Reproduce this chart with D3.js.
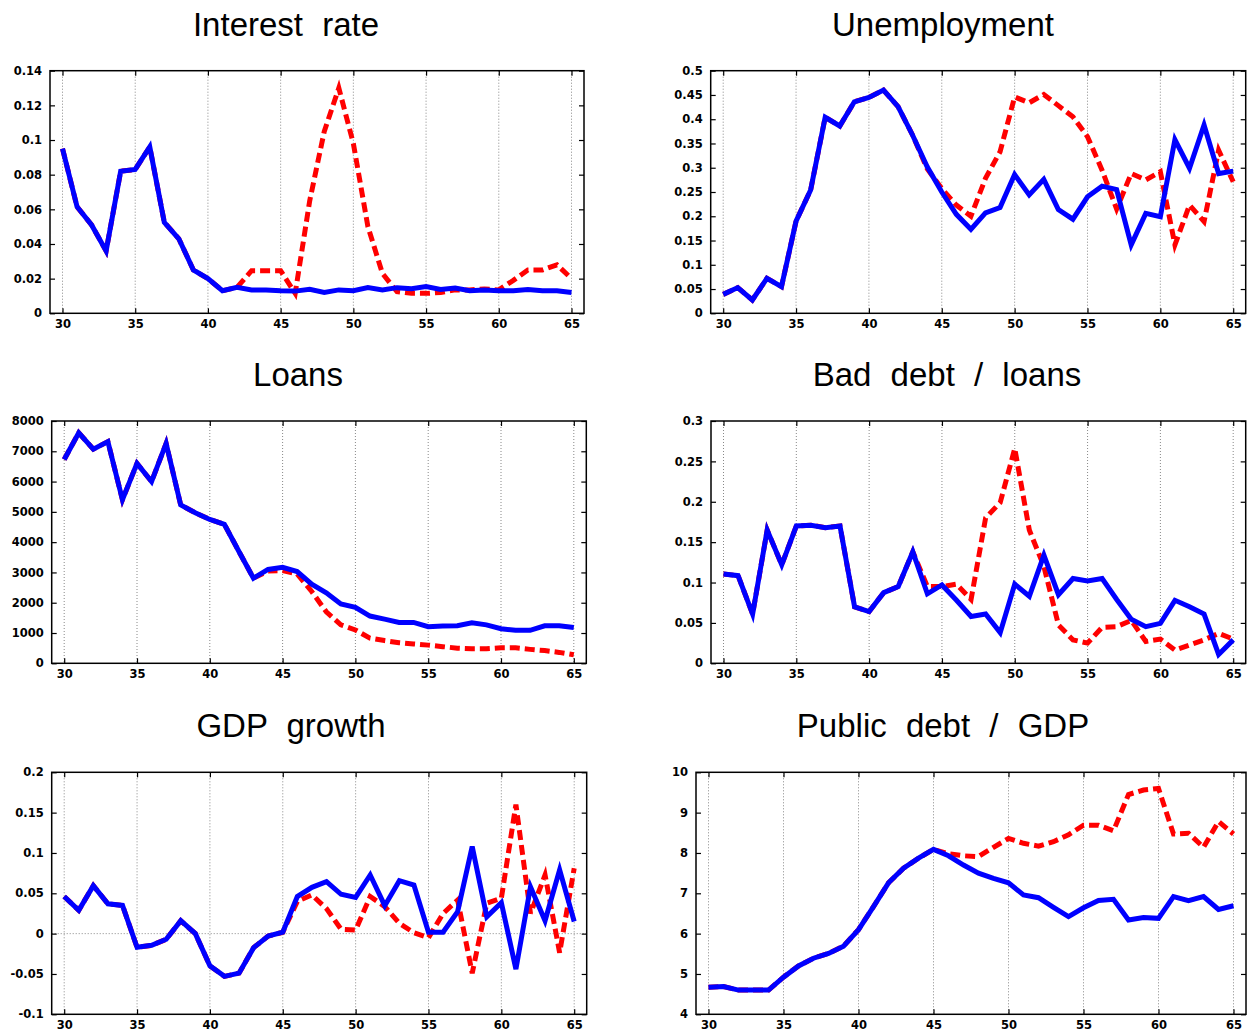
<!DOCTYPE html>
<html>
<head>
<meta charset="utf-8">
<script src="https://cdn.jsdelivr.net/npm/d3@7"></script>
<style>
  body { margin: 0; background: #fff; }
  .title { font-family: "Liberation Sans", Arial, sans-serif; font-size: 33px; fill: #000; word-spacing: 10px; }
  .axes text { font-family: "DejaVu Sans", sans-serif; font-weight: bold; font-size: 11.5px; fill: #000; }
  .axes line { stroke: #000; stroke-width: 1.2; }
  .grid { stroke: #888; stroke-width: 1; stroke-dasharray: 1,2; }
</style>
</head>
<body>
<svg id="chart" width="1247" height="1032"></svg>
<script>
const years = [30, 31, 32, 33, 34, 35, 36, 37, 38, 39, 40, 41, 42, 43, 44, 45, 46, 47,
               48, 49, 50, 51, 52, 53, 54, 55, 56, 57, 58, 59, 60, 61, 62, 63, 64, 65];
const xTicks = [30, 35, 40, 45, 50, 55, 60, 65];

// blue = baseline, red dashed = alternative scenario
const rateBase = [0.095, 0.0615, 0.051, 0.036, 0.082, 0.083, 0.096, 0.0525, 0.043, 0.025,
                  0.020, 0.013, 0.015, 0.0135, 0.0135, 0.013, 0.0128, 0.0138, 0.012, 0.0135,
                  0.013, 0.0148, 0.0135, 0.0148, 0.0142, 0.0154, 0.0138, 0.0146, 0.013, 0.0135,
                  0.013, 0.013, 0.0138, 0.013, 0.013, 0.012];
const rateAlt = [0.095, 0.0615, 0.051, 0.036, 0.082, 0.083, 0.096, 0.0525, 0.043, 0.025,
                 0.020, 0.013, 0.015, 0.0246, 0.0246, 0.0246, 0.0115, 0.065, 0.105, 0.13,
                 0.098, 0.05, 0.023, 0.0125, 0.0115, 0.0115, 0.012, 0.0135, 0.0135, 0.014,
                 0.0135, 0.019, 0.025, 0.025, 0.028, 0.020];
const rateTicks = [0, 0.02, 0.04, 0.06, 0.08, 0.1, 0.12, 0.14];

const unempBase = [0.039, 0.053, 0.0275, 0.072, 0.055, 0.19, 0.254, 0.404, 0.386, 0.436,
                   0.445, 0.46, 0.426, 0.367, 0.302, 0.25, 0.204, 0.173, 0.207, 0.218,
                   0.286, 0.244, 0.276, 0.214, 0.194, 0.24, 0.262, 0.255, 0.141, 0.206,
                   0.199, 0.358, 0.299, 0.388, 0.288, 0.293];
const unempAlt = [0.039, 0.053, 0.0275, 0.072, 0.055, 0.19, 0.254, 0.404, 0.386, 0.436,
                  0.445, 0.46, 0.426, 0.367, 0.298, 0.257, 0.223, 0.2, 0.278, 0.333,
                  0.446, 0.434, 0.451, 0.428, 0.405, 0.364, 0.295, 0.215, 0.288, 0.275,
                  0.292, 0.141, 0.223, 0.189, 0.336, 0.271];
const unempTicks = [0, 0.05, 0.1, 0.15, 0.2, 0.25, 0.3, 0.35, 0.4, 0.45, 0.5];

const loansBase = [6730, 7610, 7070, 7320, 5400, 6600, 6000, 7260, 5230, 4970,
                   4750, 4590, 3690, 2810, 3100, 3170, 3030, 2610, 2330, 1960,
                   1850, 1560, 1460, 1350, 1350, 1210, 1230, 1240, 1340, 1270,
                   1140, 1090, 1090, 1240, 1240, 1180];
const loansAlt = [6730, 7610, 7070, 7320, 5400, 6600, 6000, 7260, 5230, 4970,
                  4750, 4590, 3690, 2810, 3050, 3060, 2950, 2370, 1700, 1270,
                  1100, 830, 750, 680, 640, 600, 550, 500, 480, 480,
                  510, 510, 460, 420, 360, 280];
const loansTicks = [0, 1000, 2000, 3000, 4000, 5000, 6000, 7000, 8000];

const badDebtBase = [0.1106, 0.1085, 0.061, 0.165, 0.122, 0.170, 0.171, 0.168, 0.170, 0.070,
                     0.064, 0.0875, 0.095, 0.138, 0.086, 0.097, 0.078, 0.058, 0.061, 0.038,
                     0.098, 0.083, 0.134, 0.085, 0.105, 0.102, 0.105, 0.079, 0.0545, 0.0454,
                     0.0495, 0.078, 0.070, 0.061, 0.011, 0.029];
const badDebtAlt = [0.1106, 0.1085, 0.061, 0.165, 0.122, 0.170, 0.171, 0.168, 0.170, 0.070,
                    0.064, 0.0875, 0.095, 0.138, 0.095, 0.095, 0.098, 0.079, 0.18, 0.199,
                    0.266, 0.165, 0.120, 0.0475, 0.029, 0.025, 0.0446, 0.0454, 0.053, 0.027,
                    0.030, 0.0165, 0.0227, 0.029, 0.037, 0.030];
const badDebtTicks = [0, 0.05, 0.1, 0.15, 0.2, 0.25, 0.3];

const gdpBase = [0.046, 0.029, 0.0595, 0.037, 0.035, -0.017, -0.0145, -0.007, 0.016, 0.0,
                 -0.040, -0.053, -0.049, -0.0174, -0.003, 0.0017, 0.046, 0.0574, 0.0645, 0.0488,
                 0.045, 0.0727, 0.0347, 0.0657, 0.0603, 0.0017, 0.0017, 0.0273, 0.108, 0.021,
                 0.0384, -0.044, 0.058, 0.016, 0.079, 0.015];
const gdpAlt = [0.046, 0.029, 0.0595, 0.037, 0.035, -0.017, -0.0145, -0.007, 0.016, 0.0,
                -0.040, -0.053, -0.049, -0.0174, -0.003, 0.0017, 0.040, 0.048, 0.031, 0.0054,
                0.0045, 0.046, 0.0335, 0.0128, 0.0012, -0.005, 0.025, 0.0417, -0.049, 0.0376,
                0.0438, 0.160, 0.025, 0.0727, -0.0236, 0.081];
const gdpTicks = [-0.1, -0.05, 0, 0.05, 0.1, 0.15, 0.2];

const pubDebtBase = [4.67, 4.69, 4.6, 4.6, 4.6, 4.92, 5.2, 5.39, 5.51, 5.69,
                     6.1, 6.67, 7.26, 7.62, 7.87, 8.09, 7.93, 7.70, 7.5, 7.37,
                     7.26, 6.96, 6.89, 6.65, 6.42, 6.64, 6.82, 6.85, 6.34, 6.40,
                     6.38, 6.92, 6.82, 6.92, 6.60, 6.69];
const pubDebtAlt = [4.67, 4.69, 4.6, 4.6, 4.6, 4.92, 5.2, 5.39, 5.51, 5.69,
                    6.1, 6.67, 7.26, 7.62, 7.87, 8.09, 7.98, 7.93, 7.91, 8.14,
                    8.36, 8.24, 8.17, 8.28, 8.45, 8.69, 8.69, 8.55, 9.45, 9.56,
                    9.60, 8.47, 8.49, 8.14, 8.78, 8.47];
const pubDebtTicks = [4, 5, 6, 7, 8, 9, 10];

const titles = ["Interest rate", "Unemployment", "Loans", "Bad debt / loans", "GDP growth", "Public debt / GDP"];

// frame of each plot (left, right, top, bottom) and title centre
const panels = [
  {base: rateBase, alt: rateAlt, ticks: rateTicks, box: [50, 584, 70.7, 313.3], tx: 286},
  {base: unempBase, alt: unempAlt, ticks: unempTicks, box: [710.7, 1245.7, 70.7, 313.3], tx: 943},
  {base: loansBase, alt: loansAlt, ticks: loansTicks, box: [51.7, 586.3, 421, 663.3], tx: 298},
  {base: badDebtBase, alt: badDebtAlt, ticks: badDebtTicks, box: [711, 1245.7, 421, 663.3], tx: 947},
  {base: gdpBase, alt: gdpAlt, ticks: gdpTicks, box: [51.7, 586.7, 772.3, 1014.3], tx: 291},
  {base: pubDebtBase, alt: pubDebtAlt, ticks: pubDebtTicks, box: [696, 1246, 772.3, 1014.3], tx: 943}
];

const pad = 12.5;
const tickLen = 5;
const fmt = d => String(parseFloat(d.toFixed(4)));

let svg = d3.select('#chart');

panels.forEach((p, i) => {
    const [left, right, top, bottom] = p.box;

    let x = d3.scaleLinear()
        .domain([30, 65])
        .range([left + pad, right - pad]);

    let y = d3.scaleLinear()
        .domain(d3.extent(p.ticks))
        .range([bottom, top]);

    let g = svg.append('g');

    // title
    g.append('text')
        .attr('class', 'title')
        .attr('x', p.tx)
        .attr('y', top - 35)
        .attr('text-anchor', 'middle')
        .text(titles[i]);

    // dotted vertical grid
    g.selectAll('line.grid')
        .data(xTicks)
        .enter()
        .append('line')
        .attr('class', 'grid')
        .attr('x1', d => x(d)).attr('x2', d => x(d))
        .attr('y1', top).attr('y2', bottom);

    // zero line when the range crosses 0
    if (y.domain()[0] < 0) {
        g.append('line')
            .attr('class', 'grid')
            .attr('x1', left).attr('x2', right)
            .attr('y1', y(0)).attr('y2', y(0));
    }

    // axes with inward ticks, mirrored on top / right
    let axisB = d3.axisBottom(x).tickValues(xTicks).tickSizeInner(-tickLen).tickSizeOuter(0).tickPadding(7);
    let axisT = d3.axisTop(x).tickValues(xTicks).tickSizeInner(-tickLen).tickSizeOuter(0).tickFormat('');
    let axisL = d3.axisLeft(y).tickValues(p.ticks).tickSizeInner(-tickLen).tickSizeOuter(0).tickPadding(8).tickFormat(fmt);
    let axisR = d3.axisRight(y).tickValues(p.ticks).tickSizeInner(-tickLen).tickSizeOuter(0).tickFormat('');

    [[axisB, 0, bottom], [axisT, 0, top], [axisL, left, 0], [axisR, right, 0]].forEach(([ax, tx, ty]) => {
        let a = g.append('g')
            .attr('class', 'axes')
            .attr('transform', 'translate(' + tx + ',' + ty + ')')
            .call(ax)
            .attr('font-family', null)
            .attr('font-size', null);
        a.select('.domain').remove();
    });

    // lines: red scenario under blue baseline
    let line = d3.line()
        .x((d, j) => x(years[j]))
        .y(d => y(d));

    g.append('path')
        .datum(p.alt)
        .attr('d', line)
        .attr('fill', 'none')
        .attr('stroke', '#ff0000')
        .attr('stroke-width', 5)
        .attr('stroke-dasharray', '10,5');

    g.append('path')
        .datum(p.base)
        .attr('d', line)
        .attr('fill', 'none')
        .attr('stroke', '#0000ff')
        .attr('stroke-width', 5)
        .attr('stroke-linejoin', 'miter');

    // frame
    g.append('rect')
        .attr('x', left).attr('y', top)
        .attr('width', right - left).attr('height', bottom - top)
        .attr('fill', 'none')
        .attr('stroke', '#000')
        .attr('stroke-width', 1.5);
});
</script>
</body>
</html>
